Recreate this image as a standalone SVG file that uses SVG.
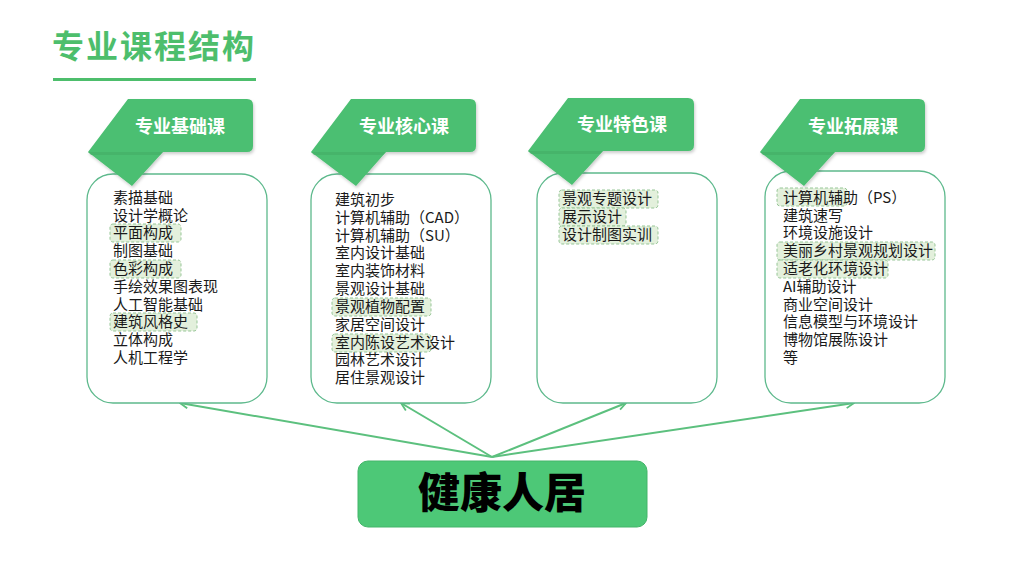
<svg xmlns="http://www.w3.org/2000/svg" width="1024" height="576" viewBox="0 0 1024 576">
<defs>
<style>
.title{font-family:"Noto Sans CJK SC","Noto Sans",sans-serif;font-weight:700;font-size:32px;fill:#4DBE6C}
.tagtxt{font-family:"Noto Sans CJK SC","Noto Sans",sans-serif;font-weight:700;font-size:18px;fill:#ffffff}
.item{font-family:"Noto Sans CJK SC","Noto Sans",sans-serif;font-size:15px;fill:#1a1a1a}
.panel{fill:#ffffff;stroke:#5DB98C;stroke-width:1.3}
.tag{fill:#4CBF72}
.fold{fill:#43AE66}
.hl{fill:#E3F0DC;stroke:#97C697;stroke-width:1;stroke-dasharray:3 2}
.conn{stroke:#5CC07E;stroke-width:2;fill:none}
.main{font-family:"Noto Sans CJK SC","Noto Sans",sans-serif;font-weight:900;font-size:42px;fill:#000000}
</style>
<marker id="arr" viewBox="0 0 10 10" refX="9" refY="5" markerWidth="10" markerHeight="10" markerUnits="userSpaceOnUse" orient="auto">
<path d="M1,1 L9,5 L1,9" fill="none" stroke="#5CC07E" stroke-width="1.8"/>
</marker>
<filter id="sh" x="-10%" y="-10%" width="130%" height="140%">
<feDropShadow dx="1" dy="2" stdDeviation="1.5" flood-color="#000" flood-opacity="0.2"/>
</filter>
</defs>

<g id="title">
<text class="title" x="52" y="58" letter-spacing="2">专业课程结构</text>
<rect x="53" y="78" width="203" height="3" fill="#4DBE6C"/>
</g>

<g id="connectors">
<line class="conn" x1="492" y1="457" x2="180" y2="403" marker-end="url(#arr)"/>
<line class="conn" x1="492" y1="457" x2="401" y2="403" marker-end="url(#arr)"/>
<line class="conn" x1="492" y1="457" x2="626" y2="403" marker-end="url(#arr)"/>
<line class="conn" x1="492" y1="457" x2="854" y2="403" marker-end="url(#arr)"/>
</g>

<g id="panel1">
<rect class="panel" x="87" y="174" width="180" height="229" rx="26"/>
<g filter="url(#sh)">
<path class="tag" d="M88,152 L128,99 L247,99 Q253,99 253,105 L253,146 Q253,152 247,152 L163,152 L132,186 Z"/>
</g>
<path class="fold" d="M88,152 L163,152 L160,155 L91,155 Z" opacity="0.6"/>
<text class="tagtxt" x="180" y="133" text-anchor="middle">专业基础课</text>
<rect class="hl" x="110" y="224" width="71" height="18" rx="3"/>
<rect class="hl" x="110" y="260" width="71" height="18" rx="3"/>
<rect class="hl" x="110" y="313" width="87" height="18" rx="3"/>
<text class="item" x="113" y="203">素描基础</text>
<text class="item" x="113" y="221">设计学概论</text>
<text class="item" x="113" y="238">平面构成</text>
<text class="item" x="113" y="256">制图基础</text>
<text class="item" x="113" y="274">色彩构成</text>
<text class="item" x="113" y="292">手绘效果图表现</text>
<text class="item" x="113" y="310">人工智能基础</text>
<text class="item" x="113" y="327">建筑风格史</text>
<text class="item" x="113" y="345">立体构成</text>
<text class="item" x="113" y="363">人机工程学</text>
</g>

<g id="panel2">
<rect class="panel" x="311" y="174" width="180" height="229" rx="26"/>
<g filter="url(#sh)">
<path class="tag" d="M311,152 L351,99 L470,99 Q476,99 476,105 L476,146 Q476,152 470,152 L386,152 L356,186 Z"/>
</g>
<path class="fold" d="M311,152 L386,152 L383,155 L314,155 Z" opacity="0.6"/>
<text class="tagtxt" x="404" y="133" text-anchor="middle">专业核心课</text>
<rect class="hl" x="332" y="298" width="99" height="18" rx="3"/>
<rect class="hl" x="332" y="334" width="99" height="18" rx="3"/>
<text class="item" x="335" y="205">建筑初步</text>
<text class="item" x="335" y="223">计算机辅助（CAD）</text>
<text class="item" x="335" y="241">计算机辅助（SU）</text>
<text class="item" x="335" y="258">室内设计基础</text>
<text class="item" x="335" y="276">室内装饰材料</text>
<text class="item" x="335" y="294">景观设计基础</text>
<text class="item" x="335" y="312">景观植物配置</text>
<text class="item" x="335" y="330">家居空间设计</text>
<text class="item" x="335" y="348">室内陈设艺术设计</text>
<text class="item" x="335" y="365">园林艺术设计</text>
<text class="item" x="335" y="383">居住景观设计</text>
</g>

<g id="panel3">
<rect class="panel" x="537" y="173" width="180" height="230" rx="26"/>
<g filter="url(#sh)">
<path class="tag" d="M528,151 L568,98 L688,98 Q694,98 694,104 L694,145 Q694,151 688,151 L603,151 L572,185 Z"/>
</g>
<path class="fold" d="M528,151 L603,151 L600,154 L531,154 Z" opacity="0.6"/>
<text class="tagtxt" x="622" y="131" text-anchor="middle">专业特色课</text>
<rect class="hl" x="559" y="190" width="99" height="18" rx="3"/>
<rect class="hl" x="559" y="208" width="67" height="18" rx="3"/>
<rect class="hl" x="559" y="226" width="99" height="18" rx="3"/>
<text class="item" x="562" y="204">景观专题设计</text>
<text class="item" x="562" y="222">展示设计</text>
<text class="item" x="562" y="240">设计制图实训</text>
</g>

<g id="panel4">
<rect class="panel" x="765" y="171" width="180" height="232" rx="26"/>
<g filter="url(#sh)">
<path class="tag" d="M760,152 L800,99 L919,99 Q925,99 925,105 L925,146 Q925,152 919,152 L835,152 L804,186 Z"/>
</g>
<path class="fold" d="M760,152 L835,152 L832,155 L763,155 Z" opacity="0.6"/>
<text class="tagtxt" x="853" y="133" text-anchor="middle">专业拓展课</text>
<rect class="hl" x="777" y="188" width="70" height="18" rx="3"/>
<rect class="hl" x="777" y="242" width="158" height="18" rx="3"/>
<rect class="hl" x="777" y="260" width="111" height="18" rx="3"/>
<text class="item" x="783" y="203">计算机辅助（PS）</text>
<text class="item" x="783" y="221">建筑速写</text>
<text class="item" x="783" y="238">环境设施设计</text>
<text class="item" x="783" y="256">美丽乡村景观规划设计</text>
<text class="item" x="783" y="274">适老化环境设计</text>
<text class="item" x="783" y="292">AI辅助设计</text>
<text class="item" x="783" y="310">商业空间设计</text>
<text class="item" x="783" y="327">信息模型与环境设计</text>
<text class="item" x="783" y="345">博物馆展陈设计</text>
<text class="item" x="783" y="363">等</text>
</g>

<g id="center">
<rect x="358" y="461" width="289" height="66" rx="10" fill="#4DC877" stroke="#44B56A" stroke-width="1"/>
<text class="main" x="502" y="508" text-anchor="middle">健康人居</text>
</g>
</svg>
